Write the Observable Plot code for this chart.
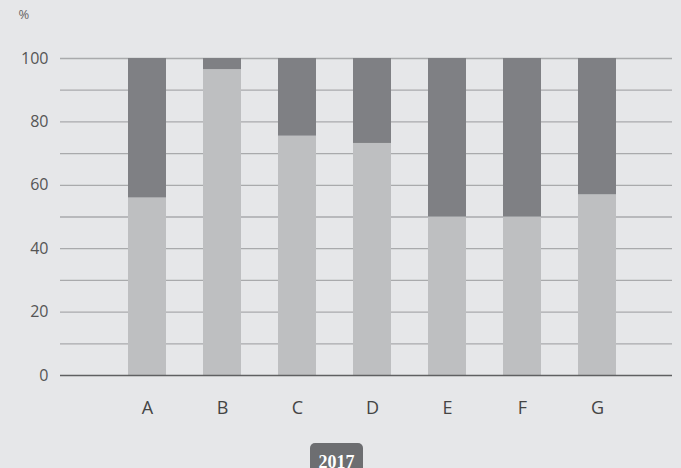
<!DOCTYPE html>
<html>
<head>
<meta charset="utf-8">
<script src="https://cdn.jsdelivr.net/npm/d3@7"></script>
<script src="https://cdn.jsdelivr.net/npm/@observablehq/plot@0.6"></script>
<style>
  html, body { margin: 0; padding: 0; background: #e6e7e9; }
  #wrap { position: relative; width: 681px; height: 468px; overflow: hidden; background: #e6e7e9; }
  #year {
    position: absolute; left: 310px; top: 443px; width: 53px; height: 34px;
    background: #6d6e71; border-radius: 5px; color: #fff;
    font-family: "Liberation Serif", serif; font-weight: bold; font-size: 18px;
    text-align: center; line-height: 38px;
  }
</style>
</head>
<body>
<div id="wrap"></div>
<script>
const categories = ["A", "B", "C", "D", "E", "F", "G"];
const lowerValues = [56, 96.5, 75.5, 73.2, 50, 50, 57];
const upperValues = [44, 3.5, 24.5, 26.8, 50, 50, 43];
const yTicks = [0, 20, 40, 60, 80, 100];
const gridLines = [10, 20, 30, 40, 50, 60, 70, 80, 90, 100];
const yearLabel = "2017";
const unitLabel = "%";

const rows = [];
categories.forEach((c, i) => {
  rows.push({cat: c, part: "lower", value: lowerValues[i]});
  rows.push({cat: c, part: "upper", value: upperValues[i]});
});

const chart = Plot.plot({
  width: 681,
  height: 440,
  marginTop: 58,
  marginBottom: 65,
  marginLeft: 60,
  marginRight: 9,
  style: {background: "#e6e7e9", fontFamily: "'Open Sans', sans-serif"},
  x: {domain: categories, range: [125, 618], paddingInner: 0.5, paddingOuter: 0, label: null},
  y: {domain: [0, 100], label: null},
  color: {domain: ["lower", "upper"], range: ["#bebfc1", "#7f8084"]},
  marks: [
    Plot.ruleY(gridLines, {stroke: "#a9aaac", strokeWidth: 1.3}),
    Plot.barY(rows, Plot.stackY({x: "cat", y: "value", fill: "part", order: ["lower", "upper"]})),
    Plot.ruleY([0], {stroke: "#5f6062", strokeWidth: 1.6}),
    Plot.axisY({ticks: yTicks, tickSize: 0, tickPadding: 12, fontSize: 16, color: "#555", label: null}),
    Plot.axisX({tickSize: 0, tickPadding: 26, fontSize: 18, color: "#444", label: null}),
    Plot.text([unitLabel], {frameAnchor: "top-left", textAnchor: "start", dx: -42, dy: -49, fontSize: 13, fill: "#666"})
  ]
});
document.getElementById("wrap").appendChild(chart);
const yr = document.createElement("div");
yr.id = "year";
yr.textContent = yearLabel;
document.getElementById("wrap").appendChild(yr);
</script>
</body>
</html>
